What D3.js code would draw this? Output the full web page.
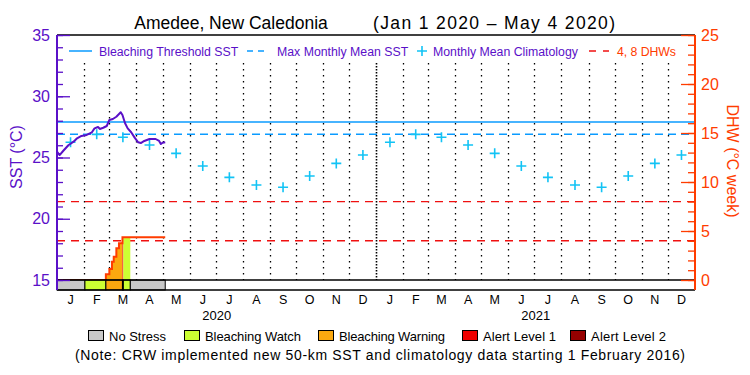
<!DOCTYPE html>
<html>
<head>
<meta charset="utf-8">
<script src="https://cdn.jsdelivr.net/npm/d3@7"></script>
<style>
  body { margin: 0; background: #fff; }
  text { font-family: "Liberation Sans", Arial, sans-serif; }
</style>
</head>
<body>
<div id="chart"></div>
<script>
// Chart data
const monthLabels = ['J', 'F', 'M', 'A', 'M', 'J', 'J', 'A', 'S', 'O', 'N', 'D'];
const yearLabels = ['2020', '2021'];
const climatology = [26.24, 26.89, 26.65, 26.02, 25.34, 24.31, 23.38, 22.76, 22.57, 23.49, 24.52, 25.2];
const maxMonthlyMean = 26.9;
const bleachingThreshold = 27.9;
const dhwRefLevels = [4, 8];

const sstDates = ['2020-01-01', '2020-01-04', '2020-01-08', '2020-01-14', '2020-01-20', '2020-01-24',
  '2020-01-29', '2020-02-04', '2020-02-10', '2020-02-13', '2020-02-17', '2020-02-19', '2020-02-23',
  '2020-02-27', '2020-03-01', '2020-03-05', '2020-03-09', '2020-03-14', '2020-03-16', '2020-03-19',
  '2020-03-22', '2020-03-26', '2020-03-30', '2020-04-03', '2020-04-06', '2020-04-10', '2020-04-16',
  '2020-04-23', '2020-04-27', '2020-04-29', '2020-05-01', '2020-05-04'];
const sstValues = [25.47, 25.2, 25.53, 26.0, 26.29, 26.57, 26.76, 26.84, 27.06, 27.38, 27.49, 27.33,
  27.43, 27.57, 28.06, 28.14, 28.33, 28.69, 28.47, 27.79, 27.38, 27.06, 26.62, 26.24, 26.18, 26.35,
  26.51, 26.51, 26.35, 26.1, 26.2, 26.24];

const dhwDates = ['2020-01-01', '2020-02-26', '2020-03-01', '2020-03-04', '2020-03-06', '2020-03-09',
  '2020-03-12', '2020-03-16', '2020-05-04'];
const dhwValues = [0, 0.58, 1.12, 1.87, 2.38, 3.23, 3.74, 4.36, 4.36];

const stressStarts = ['2020-01-01', '2020-02-02', '2020-02-26', '2020-03-16', '2020-03-17', '2020-03-25'];
const stressEnds = ['2020-02-02', '2020-02-26', '2020-03-16', '2020-03-17', '2020-03-25', '2020-05-04'];
const stressLevels = [0, 1, 2, 3, 1, 0];

const stressNames = ['No Stress', 'Bleaching Watch', 'Bleaching Warning', 'Alert Level 1', 'Alert Level 2'];
const stressColors = ['#c8c8c8', '#ccff33', '#fba80f', '#ee0000', '#960000'];

// Colours
const purple = '#5a10c8';
const orangeRed = '#ff3c00';
const blue = '#0a9bff';
const cyan = '#12c3f5';

const width = 750;
const height = 375;
const plotLeft = 57, plotRight = 695, plotTop = 35, plotBottom = 280, axisBottom = 290;

const parse = d3.utcParse('%Y-%m-%d');
const start = parse('2020-01-01');
const end = parse('2022-01-01');

const svg = d3.select('#chart').append('svg')
  .attr('width', width)
  .attr('height', height);

const x = d3.scaleUtc().domain([start, end]).range([plotLeft, plotRight]);
const ySst = d3.scaleLinear().domain([15, 35]).range([plotBottom, plotTop]);
const yDhw = d3.scaleLinear().domain([0, 25]).range([plotBottom, plotTop]);

// Title
svg.append('text').attr('x', 231).attr('y', 29).attr('text-anchor', 'middle')
  .attr('font-size', 17.5).text('Amedee, New Caledonia');
svg.append('text').attr('x', 494).attr('y', 29).attr('text-anchor', 'middle')
  .attr('font-size', 17.5).attr('textLength', 242).attr('lengthAdjust', 'spacing')
  .text('(Jan 1 2020 \u2013 May 4 2020)');

// Month grid lines (dotted)
const monthStarts = d3.utcMonth.range(parse('2020-02-01'), end);
svg.append('g').selectAll('line').data(monthStarts).enter().append('line')
  .attr('x1', (d) => Math.round(x(d)) + 0.5)
  .attr('x2', (d) => Math.round(x(d)) + 0.5)
  .attr('y1', 63).attr('y2', plotBottom)
  .attr('stroke', '#000')
  .attr('stroke-width', (d) => (d.getUTCMonth() === 0 ? 1.6 : 1.3))
  .attr('stroke-dasharray', (d) => (d.getUTCMonth() === 0 ? '1.5,1.5' : '1.5,4.5'));

// Threshold and MMM lines
svg.append('line').attr('x1', plotLeft).attr('x2', plotRight)
  .attr('y1', ySst(bleachingThreshold)).attr('y2', ySst(bleachingThreshold))
  .attr('stroke', blue).attr('stroke-width', 1.6);
svg.append('line').attr('x1', plotLeft).attr('x2', plotRight)
  .attr('y1', ySst(maxMonthlyMean)).attr('y2', ySst(maxMonthlyMean))
  .attr('stroke', blue).attr('stroke-width', 1.6).attr('stroke-dasharray', '8,5');

// DHW reference lines
svg.append('g').selectAll('line').data(dhwRefLevels).enter().append('line')
  .attr('x1', plotLeft).attr('x2', plotRight)
  .attr('y1', (d) => yDhw(d)).attr('y2', (d) => yDhw(d))
  .attr('stroke', '#f01010').attr('stroke-width', 1.4).attr('stroke-dasharray', '8,6');

// DHW fill coloured by stress level
const dhwPoints = dhwDates.map((d, i) => ({ date: parse(d), value: dhwValues[i] }));
function dhwAt(date) {
  let v = 0;
  dhwPoints.forEach((p) => { if (p.date <= date) v = p.value; });
  return v;
}
const area = d3.area().curve(d3.curveStepAfter)
  .x((d) => x(d.date)).y0(plotBottom).y1((d) => yDhw(d.value));
stressLevels.forEach((lvl, i) => {
  if (lvl === 0) return;
  const s = parse(stressStarts[i]);
  const e = parse(stressEnds[i]);
  const pts = [{ date: s, value: dhwAt(s) }]
    .concat(dhwPoints.filter((p) => p.date > s && p.date < e))
    .concat([{ date: e, value: dhwAt(e) }]);
  svg.append('path').datum(pts).attr('d', area).attr('fill', stressColors[lvl]);
});

// DHW line
svg.append('path').datum(dhwPoints)
  .attr('d', d3.line().curve(d3.curveStepAfter).x((d) => x(d.date)).y((d) => yDhw(d.value)))
  .attr('fill', 'none').attr('stroke', orangeRed).attr('stroke-width', 2);

// Stress bar
svg.append('g').selectAll('rect').data(stressLevels).enter().append('rect')
  .attr('x', (d, i) => x(parse(stressStarts[i])))
  .attr('width', (d, i) => x(parse(stressEnds[i])) - x(parse(stressStarts[i])))
  .attr('y', plotBottom).attr('height', axisBottom - plotBottom)
  .attr('fill', (d) => stressColors[d])
  .attr('stroke', '#000').attr('stroke-width', 1);

// Frame lines
[plotTop, plotBottom, axisBottom].forEach((yy) => {
  svg.append('line').attr('x1', plotLeft).attr('x2', plotRight).attr('y1', yy).attr('y2', yy)
    .attr('stroke', '#000').attr('stroke-width', 1.5);
});

// Climatology crosses
const monthList = d3.utcMonth.range(start, end);
const midMonth = (d) => new Date((d.getTime() + d3.utcMonth.offset(d, 1).getTime()) / 2);
svg.append('g').selectAll('path').data(monthList).enter().append('path')
  .attr('transform', (d) => `translate(${x(midMonth(d))},${ySst(climatology[d.getUTCMonth()])})`)
  .attr('d', 'M-5,0H5M0,-5V5')
  .attr('stroke', cyan).attr('stroke-width', 1.6);

// SST line
const sstPoints = sstDates.map((d, i) => ({ date: parse(d), value: sstValues[i] }));
svg.append('path').datum(sstPoints)
  .attr('d', d3.line().x((d) => x(d.date)).y((d) => ySst(d.value)))
  .attr('fill', 'none').attr('stroke', purple).attr('stroke-width', 2)
  .attr('stroke-linejoin', 'round');

// Left axis
const leftMinor = svg.append('g').attr('transform', `translate(${plotLeft},0)`)
  .call(d3.axisLeft(ySst).tickValues(d3.range(15, 36, 1)).tickSize(-6).tickSizeOuter(0).tickFormat(''));
const leftMajor = svg.append('g').attr('transform', `translate(${plotLeft},0)`)
  .call(d3.axisLeft(ySst).tickValues([15, 20, 25, 30, 35]).tickSize(-13).tickSizeOuter(0).tickPadding(7));
[leftMinor, leftMajor].forEach((g) => {
  g.select('.domain').remove();
  g.selectAll('line').attr('stroke', purple).attr('stroke-width', 1.3);
});
leftMajor.selectAll('text').attr('fill', purple).attr('font-size', 16)
  .attr('font-family', '"Liberation Sans", Arial, sans-serif');
svg.append('line').attr('x1', plotLeft).attr('x2', plotLeft).attr('y1', plotTop).attr('y2', axisBottom)
  .attr('stroke', purple).attr('stroke-width', 2);
svg.append('text').attr('transform', 'translate(22,157) rotate(-90)')
  .attr('text-anchor', 'middle').attr('fill', purple).attr('font-size', 16).text('SST (°C)');

// Right axis
const rightMinor = svg.append('g').attr('transform', `translate(${plotRight},0)`)
  .call(d3.axisRight(yDhw).tickValues(d3.range(0, 26, 1)).tickSize(-7).tickSizeOuter(0).tickFormat(''));
const rightMajor = svg.append('g').attr('transform', `translate(${plotRight},0)`)
  .call(d3.axisRight(yDhw).tickValues([0, 5, 10, 15, 20, 25]).tickSize(-14).tickSizeOuter(0).tickPadding(6));
[rightMinor, rightMajor].forEach((g) => {
  g.select('.domain').remove();
  g.selectAll('line').attr('stroke', orangeRed).attr('stroke-width', 1.3);
});
rightMajor.selectAll('text').attr('fill', orangeRed).attr('font-size', 16)
  .attr('font-family', '"Liberation Sans", Arial, sans-serif');
svg.append('line').attr('x1', plotRight).attr('x2', plotRight).attr('y1', plotTop).attr('y2', axisBottom)
  .attr('stroke', orangeRed).attr('stroke-width', 2);
svg.append('text').attr('transform', 'translate(727,161) rotate(90)')
  .attr('text-anchor', 'middle').attr('fill', orangeRed).attr('font-size', 16).text('DHW (°C week)');

// Month and year labels
svg.append('g').selectAll('text').data(monthList).enter().append('text')
  .attr('x', (d) => x(midMonth(d)))
  .attr('y', 304).attr('text-anchor', 'middle').attr('font-size', 12.5)
  .text((d) => monthLabels[d.getUTCMonth()]);
svg.append('g').selectAll('text').data(yearLabels).enter().append('text')
  .attr('x', (d) => (x(parse(d + '-01-01')) + x(d3.utcYear.offset(parse(d + '-01-01'), 1))) / 2)
  .attr('y', 320).attr('text-anchor', 'middle').attr('font-size', 13).text((d) => d);

// Top legend
const lg = svg.append('g').attr('font-size', 12.3);
lg.append('line').attr('x1', 69).attr('x2', 92).attr('y1', 51).attr('y2', 51)
  .attr('stroke', blue).attr('stroke-width', 1.5);
lg.append('text').attr('x', 99).attr('y', 55.5).attr('fill', purple).text('Bleaching Threshold SST');
lg.append('line').attr('x1', 247).attr('x2', 264).attr('y1', 51).attr('y2', 51)
  .attr('stroke', blue).attr('stroke-width', 1.5).attr('stroke-dasharray', '6,5');
lg.append('text').attr('x', 277).attr('y', 55.5).attr('fill', purple).text('Max Monthly Mean SST');
lg.append('path').attr('transform', 'translate(422,51)').attr('d', 'M-5,0H5M0,-5V5')
  .attr('stroke', cyan).attr('stroke-width', 1.6);
lg.append('text').attr('x', 433).attr('y', 55.5).attr('fill', purple).text('Monthly Mean Climatology');
lg.append('line').attr('x1', 589).attr('x2', 609).attr('y1', 51).attr('y2', 51)
  .attr('stroke', '#f01010').attr('stroke-width', 1.4).attr('stroke-dasharray', '7,7');
lg.append('text').attr('x', 617).attr('y', 55.5).attr('fill', orangeRed)
  .attr('textLength', 59).attr('lengthAdjust', 'spacing').text('4, 8 DHWs');

// Bottom legend
const legendX = [88, 184, 318, 462, 570];
const legendTextWidth = [57, 96, 106, 73, 75];
const bl = svg.append('g');
stressNames.forEach((name, i) => {
  bl.append('rect').attr('x', legendX[i] + 0.5).attr('y', 330.5).attr('width', 15).attr('height', 10)
    .attr('fill', stressColors[i]).attr('stroke', '#000').attr('stroke-width', 1);
  bl.append('text').attr('x', legendX[i] + 21).attr('y', 340.5).attr('font-size', 13)
    .attr('textLength', legendTextWidth[i]).attr('lengthAdjust', 'spacing').text(name);
});
svg.append('text').attr('x', 75).attr('y', 359.5).attr('font-size', 14)
  .attr('textLength', 610).attr('lengthAdjust', 'spacing')
  .text('(Note: CRW implemented new 50-km SST and climatology data starting 1 February 2016)');
</script>
</body>
</html>
